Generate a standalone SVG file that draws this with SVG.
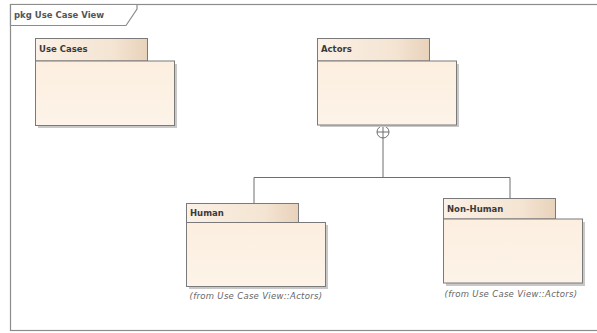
<svg xmlns="http://www.w3.org/2000/svg" width="597" height="333" viewBox="0 0 597 333">
  <defs>
    <linearGradient id="tabFill" x1="0" y1="0" x2="1" y2="0">
      <stop offset="0" stop-color="#fbf1e6"/>
      <stop offset="0.7" stop-color="#f4e4d2"/>
      <stop offset="1" stop-color="#e8d2bb"/>
    </linearGradient>
    <linearGradient id="bodyFill" x1="0" y1="0" x2="0" y2="1">
      <stop offset="0" stop-color="#fcefe0"/>
      <stop offset="1" stop-color="#fdf3e8"/>
    </linearGradient>
  </defs>
  <style>
    .frame { fill: #ffffff; stroke: #8c8c8c; stroke-width: 1.2; }
    .tab { fill: url(#tabFill); stroke: #7a7a7a; stroke-width: 1; }
    .body { fill: url(#bodyFill); stroke: #7a7a7a; stroke-width: 1; }
    .shadow { fill: #c8c8c8; }
    .name { font-family: "DejaVu Sans", Verdana, sans-serif; font-size: 8.5px; font-weight: bold; fill: #3a3a3a; }
    .from { font-family: "DejaVu Sans", Verdana, sans-serif; font-size: 8.5px; font-style: italic; fill: #666666; letter-spacing: 0.3px; }
    .title { font-family: "DejaVu Sans", Verdana, sans-serif; font-size: 8.5px; font-weight: bold; fill: #555555; }
    .conn { fill: none; stroke: #6e6e6e; stroke-width: 1; }
  </style>

  <rect width="597" height="333" fill="#ffffff"/>

  <!-- diagram frame with its name tab -->
  <g id="frame">
    <rect class="frame" x="10.5" y="4.5" width="600" height="326"/>
    <path class="frame" d="M10.5 4.5 H137 V9 L126 25.5 H10.5 Z"/>
    <text class="title" x="14" y="18">pkg Use Case View</text>
  </g>

  <!-- package nesting connectors -->
  <g id="connectors">
    <line class="conn" x1="383" y1="138" x2="383" y2="177.5"/>
    <line class="conn" x1="254" y1="177.5" x2="510" y2="177.5"/>
    <line class="conn" x1="254" y1="177.5" x2="254" y2="203"/>
    <line class="conn" x1="510" y1="177.5" x2="510" y2="198"/>
    <circle cx="383" cy="132" r="6" fill="#ffffff" stroke="#6e6e6e" stroke-width="1"/>
    <line class="conn" x1="377" y1="132" x2="389" y2="132"/>
    <line class="conn" x1="383" y1="126" x2="383" y2="138"/>
  </g>

  <g id="use-cases">
    <rect class="shadow" x="38" y="64" width="139" height="64"/>
    <rect class="tab" x="35.5" y="38.5" width="112" height="22.5"/>
    <rect class="body" x="35.5" y="61" width="139" height="64.5"/>
    <text class="name" x="39" y="52">Use Cases</text>
  </g>

  <g id="actors">
    <rect class="shadow" x="320" y="64" width="139" height="63"/>
    <rect class="tab" x="317.5" y="38.5" width="112" height="22.5"/>
    <rect class="body" x="317.5" y="61" width="139" height="64"/>
    <text class="name" x="321" y="52">Actors</text>
  </g>

  <g id="human">
    <rect class="shadow" x="189" y="225" width="139" height="64"/>
    <rect class="tab" x="186.5" y="203.5" width="112" height="19"/>
    <rect class="body" x="186.5" y="222.5" width="139" height="64"/>
    <text class="name" x="190" y="216">Human</text>
    <text class="from" x="256" y="299" text-anchor="middle">(from Use Case View::Actors)</text>
  </g>

  <g id="non-human">
    <rect class="shadow" x="446" y="222" width="139" height="64"/>
    <rect class="tab" x="443.5" y="198.5" width="112" height="20.5"/>
    <rect class="body" x="443.5" y="219" width="139" height="64"/>
    <text class="name" x="447" y="212">Non-Human</text>
    <text class="from" x="511" y="297" text-anchor="middle">(from Use Case View::Actors)</text>
  </g>
</svg>
